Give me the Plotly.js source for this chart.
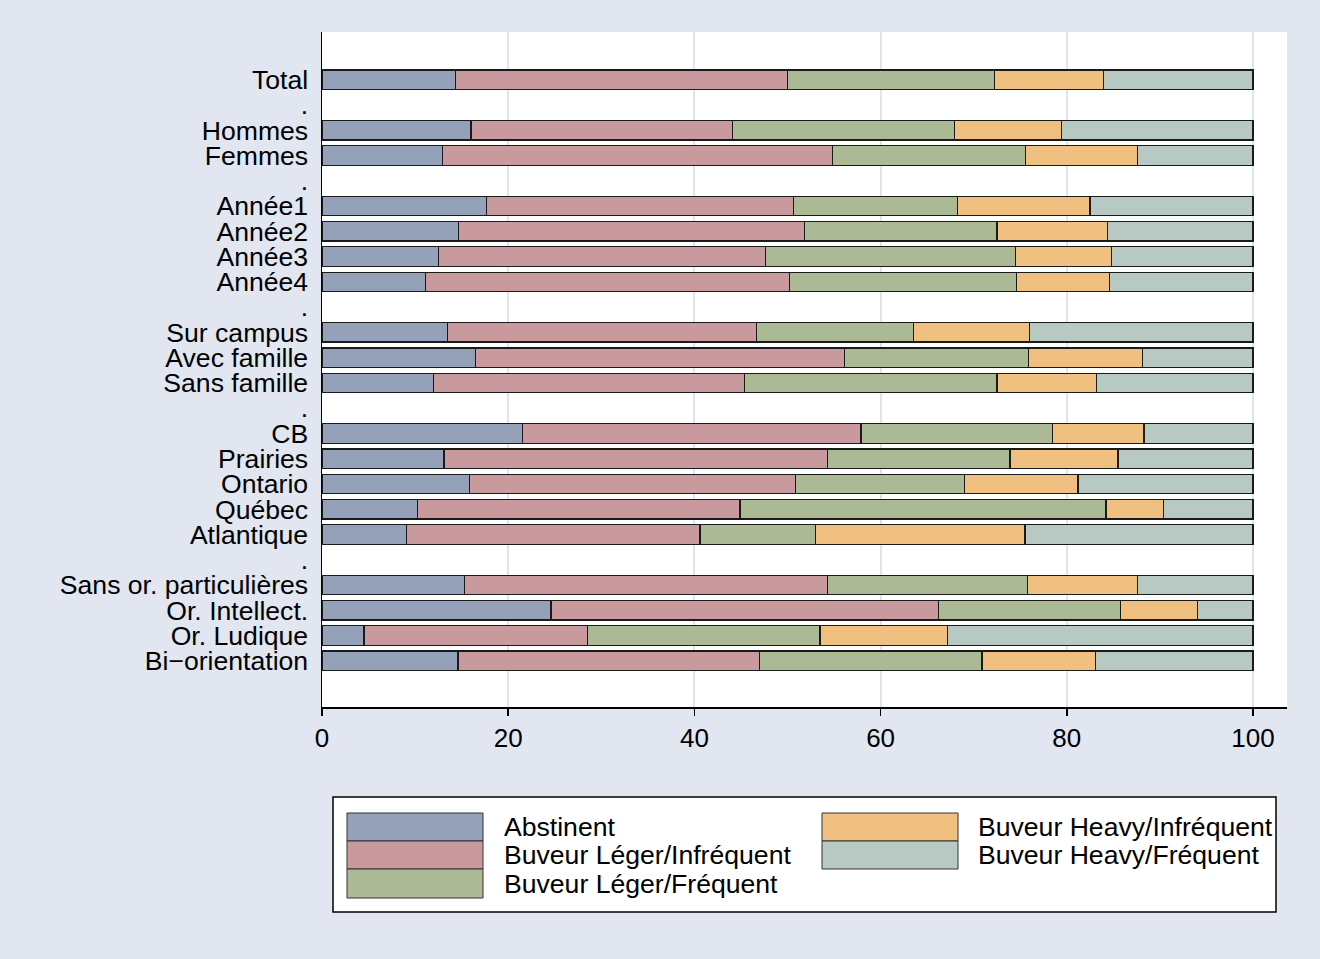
<!DOCTYPE html>
<html>
<head>
<meta charset="utf-8">
<script src="https://cdn.plot.ly/plotly-3.0.1.min.js"></script>
<style>html,body{margin:0;padding:0;background:#e1e6f0;}</style>
</head>
<body>
<div id="chart" style="width:1320px;height:959px;"></div>
<script>
// Category labels (" . " rows are group separators)
const categories = ["Total", ".", "Hommes", "Femmes", ".", "Année1", "Année2", "Année3", "Année4", ".",
  "Sur campus", "Avec famille", "Sans famille", ".", "CB", "Prairies", "Ontario", "Québec", "Atlantique", ".",
  "Sans or. particulières", "Or. Intellect.", "Or. Ludique", "Bi\u2212orientation"];

const seriesNames = ["Abstinent", "Buveur Léger/Infréquent", "Buveur Léger/Fréquent", "Buveur Heavy/Infréquent", "Buveur Heavy/Fréquent"];
const seriesColors = ["#94a1b9", "#c99a9d", "#abba95", "#f0c080", "#b8c9c3"];

const abstinent       = [14.3, null, 16.0, 12.9, null, 17.7, 14.7, 12.5, 11.1, null, 13.5, 16.5, 12.0, null, 21.5, 13.1, 15.8, 10.3,  9.1, null, 15.3, 24.6,  4.5, 14.6];
const legerInfrequent = [35.7, null, 28.1, 41.9, null, 32.9, 37.1, 35.1, 39.1, null, 33.2, 39.6, 33.4, null, 36.4, 41.2, 35.1, 34.6, 31.5, null, 39.0, 41.6, 24.0, 32.4];
const legerFrequent   = [22.2, null, 23.8, 20.8, null, 17.7, 20.7, 26.9, 24.4, null, 16.8, 19.8, 27.1, null, 20.6, 19.6, 18.1, 39.3, 12.4, null, 21.5, 19.6, 25.0, 23.9];
const heavyInfrequent = [11.7, null, 11.5, 12.0, null, 14.2, 11.9, 10.3, 10.0, null, 12.5, 12.2, 10.7, null,  9.8, 11.6, 12.2,  6.2, 22.5, null, 11.8,  8.2, 13.7, 12.2];
const heavyFrequent   = [16.1, null, 20.6, 12.4, null, 17.5, 15.6, 15.2, 15.4, null, 24.0, 11.9, 16.8, null, 11.7, 14.5, 18.8,  9.6, 24.5, null, 12.4,  6.0, 32.8, 16.9];

const xTicks = [0, 20, 40, 60, 80, 100];

const allSeries = [abstinent, legerInfrequent, legerFrequent, heavyInfrequent, heavyFrequent];
const yPos = categories.map((c, i) => i);

const FONT = "Liberation Sans, Arial, sans-serif";

const traces = allSeries.map((vals, k) => ({
  type: "bar",
  orientation: "h",
  name: seriesNames[k],
  x: vals,
  y: yPos,
  width: 0.77,
  marker: { color: seriesColors[k], line: { color: "#1a1a1a", width: 1.2 } },
  showlegend: false,
  hoverinfo: "x+name"
}));

// layout geometry (pixels)
const W = 1320, H = 959, ML = 322, MR = 33, MT = 32, MB = 252;
const PW = W - ML - MR, PH = H - MT - MB;
const px = v => (v - ML) / PW;
const py = v => (H - MB - v) / PH;

const shapes = [];
const annotations = [];
// legend box
shapes.push({ type: "rect", xref: "paper", yref: "paper", x0: px(333), x1: px(1276), y0: py(912), y1: py(797),
  fillcolor: "#ffffff", line: { color: "#000000", width: 1.5 }, layer: "above" });
const legendCols = [[347, 483, 502], [822, 958, 976]];
const legendRows = [[813, 841], [841, 869], [869, 898]];
seriesNames.forEach((name, k) => {
  const col = k < 3 ? 0 : 1;
  const row = k < 3 ? k : k - 3;
  const [sx0, sx1, tx] = legendCols[col];
  const [sy0, sy1] = legendRows[row];
  shapes.push({ type: "rect", xref: "paper", yref: "paper", x0: px(sx0), x1: px(sx1), y0: py(sy1), y1: py(sy0),
    fillcolor: seriesColors[k], line: { color: "#333333", width: 1 }, layer: "above" });
  annotations.push({ xref: "paper", yref: "paper", x: px(tx), y: py((sy0 + sy1) / 2), xanchor: "left", yanchor: "middle",
    text: name, showarrow: false, font: { family: FONT, size: 26.6, color: "#000000" } });
});

const layout = {
  width: W, height: H,
  margin: { l: ML, r: MR, t: MT, b: MB, pad: 0 },
  paper_bgcolor: "#e1e6f0",
  plot_bgcolor: "#ffffff",
  barmode: "stack",
  bargap: 0,
  font: { family: FONT, size: 26, color: "#000000" },
  xaxis: {
    range: [0, 103.65],
    tickvals: xTicks,
    ticktext: xTicks.map(String),
    showgrid: true, gridcolor: "#dfe4ef", gridwidth: 2,
    zeroline: false,
    showline: true, linecolor: "#000000", linewidth: 1.5,
    ticks: "outside", ticklen: 7, tickcolor: "#000000", tickwidth: 1.5,
    tickfont: { family: FONT, size: 26, color: "#000000" },
    fixedrange: true
  },
  yaxis: {
    range: [24.83, -1.89],
    tickvals: yPos,
    ticktext: categories,
    showgrid: false, zeroline: false,
    showline: true, linecolor: "#000000", linewidth: 1.5,
    ticks: "", ticklabelstandoff: 7,
    tickfont: { family: FONT, size: 26.6, color: "#000000" },
    fixedrange: true
  },
  shapes: shapes,
  annotations: annotations
};

Plotly.newPlot("chart", traces, layout, { displayModeBar: false, staticPlot: true });
</script>
</body>
</html>
